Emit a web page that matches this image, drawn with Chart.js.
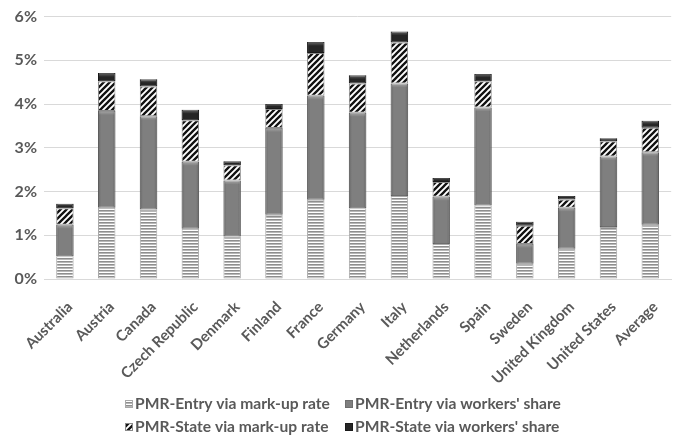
<!DOCTYPE html>
<html>
<head>
<meta charset="utf-8">
<script src="https://cdn.jsdelivr.net/npm/chart.js@4.4.1/dist/chart.umd.min.js"></script>
<style>
  html, body { margin: 0; padding: 0; background: #ffffff; }
  canvas { display: block; }
</style>
</head>
<body>
<canvas id="chart" width="674" height="437"></canvas>
<script>
// Contribution of product-market regulation reforms, by country (percent)
const categories = ['Australia', 'Austria', 'Canada', 'Czech Republic', 'Denmark', 'Finland', 'France',
  'Germany', 'Italy', 'Netherlands', 'Spain', 'Sweden', 'United Kingdom', 'United States', 'Average'];

const entryMarkup  = [0.52, 1.63, 1.59, 1.15, 0.97, 1.47, 1.81, 1.62, 1.90, 0.80, 1.68, 0.35, 0.69, 1.19, 1.24];
const entryWorkers = [0.72, 2.21, 2.13, 1.53, 1.28, 1.98, 2.38, 2.18, 2.57, 1.08, 2.24, 0.45, 0.94, 1.61, 1.66];
const stateMarkup  = [0.38, 0.68, 0.68, 0.95, 0.35, 0.44, 0.98, 0.67, 0.94, 0.34, 0.60, 0.42, 0.19, 0.35, 0.56];
const stateWorkers = [0.10, 0.19, 0.17, 0.24, 0.09, 0.11, 0.25, 0.19, 0.25, 0.09, 0.17, 0.09, 0.08, 0.07, 0.16];

const seriesNames = ['PMR-Entry via mark-up rate', "PMR-Entry via workers' share",
  'PMR-State via mark-up rate', "PMR-State via workers' share"];

const yTickLabels = ['0%', '1%', '2%', '3%', '4%', '5%', '6%'];

const TEXT = '#595959';
const FONT = 'Lato, "Open Sans", sans-serif';

// ---- fill patterns ----
function stripePattern() {
  const c = document.createElement('canvas');
  c.width = 4; c.height = 3;
  const g = c.getContext('2d');
  g.fillStyle = '#ffffff'; g.fillRect(0, 0, 4, 3);
  g.fillStyle = '#8e8e8e'; g.fillRect(0, 0, 4, 1);
  g.fillStyle = '#b8b8b8'; g.fillRect(0, 1, 4, 1);
  return g.createPattern(c, 'repeat');
}
function hatchPattern() {
  const s = 6;
  const c = document.createElement('canvas');
  c.width = s; c.height = s;
  const g = c.getContext('2d');
  g.fillStyle = '#ffffff'; g.fillRect(0, 0, s, s);
  g.strokeStyle = '#111111'; g.lineWidth = 2.3;
  g.beginPath();
  for (let k = -1; k <= 1; k++) {
    g.moveTo(k * s - 1, s + 1);
    g.lineTo(k * s + s + 1, -1);
  }
  g.stroke();
  return g.createPattern(c, 'repeat');
}

const ctx = document.getElementById('chart').getContext('2d');
const fills = [stripePattern(), '#7f7f7f', hatchPattern(), '#262626'];
const borders = ['#a9a9a9', '#6e6e6e', '#8a8a8a', '#1a1a1a'];
const seriesValues = [entryMarkup, entryWorkers, stateMarkup, stateWorkers];

// Soft bevel shading on the solid segments
const bevel = {
  id: 'bevel',
  afterDatasetsDraw(chart) {
    const c = chart.ctx;
    [1, 3].forEach(di => {
      const meta = chart.getDatasetMeta(di);
      meta.data.forEach(el => {
        const { x, y, base, width } = el.getProps(['x', 'y', 'base', 'width'], true);
        const l = x - width / 2, h = base - y;
        if (h <= 0) return;
        const gr = c.createLinearGradient(l, 0, l + width, 0);
        gr.addColorStop(0, 'rgba(0,0,0,0.18)');
        gr.addColorStop(0.18, 'rgba(0,0,0,0)');
        gr.addColorStop(0.82, 'rgba(0,0,0,0)');
        gr.addColorStop(1, 'rgba(0,0,0,0.18)');
        c.save();
        c.fillStyle = gr;
        c.fillRect(l, y, width, h);
        const th = Math.min(4, h / 2);
        const tg = c.createLinearGradient(0, y, 0, y + th);
        tg.addColorStop(0, 'rgba(255,255,255,0.30)');
        tg.addColorStop(1, 'rgba(255,255,255,0)');
        c.fillStyle = tg;
        c.fillRect(l + 1, y, width - 2, th);
        c.restore();
      });
    });
  }
};

// Two-row legend under the axis labels
const legendGrid = {
  id: 'legendGrid',
  afterDraw(chart) {
    const c = chart.ctx;
    const cols = [125, 345];
    const rows = [404, 427];
    c.save();
    c.font = 'bold 15.6px ' + FONT;
    c.textBaseline = 'middle';
    c.textAlign = 'left';
    chart.data.datasets.forEach((ds, i) => {
      const bx = cols[i % 2], by = rows[Math.floor(i / 2)];
      c.fillStyle = ds.backgroundColor;
      c.fillRect(bx, by - 4, 8, 8);
      c.strokeStyle = ds.borderColor;
      c.lineWidth = 1;
      c.strokeRect(bx + 0.5, by - 3.5, 7, 7);
      c.fillStyle = TEXT;
      c.fillText(ds.label, bx + 10, by);
    });
    c.restore();
  }
};

new Chart(ctx, {
  type: 'bar',
  data: {
    labels: categories,
    datasets: seriesValues.map((vals, i) => ({
      label: seriesNames[i],
      data: vals,
      backgroundColor: fills[i],
      borderColor: borders[i],
      borderWidth: 1,
      borderSkipped: false,
      barPercentage: 0.417,
      categoryPercentage: 1
    }))
  },
  options: {
    responsive: false,
    animation: false,
    layout: { padding: { top: 14, right: -3, bottom: 0, left: 0 } },
    plugins: {
      legend: { display: false },
      tooltip: { enabled: false }
    },
    scales: {
      x: {
        stacked: true,
        grid: { display: false },
        border: { display: true, color: '#d9d9d9' },
        ticks: {
          color: TEXT,
          font: { family: FONT, size: 15, weight: 'bold' },
          minRotation: 45,
          maxRotation: 45,
          autoSkip: false,
          padding: 11,
          labelOffset: 5
        },
        afterFit(scale) { scale.height = 158; }
      },
      y: {
        stacked: true,
        min: 0,
        max: 6,
        grid: { color: '#d9d9d9', drawTicks: false },
        border: { display: false },
        ticks: {
          stepSize: 1,
          color: TEXT,
          padding: 7,
          font: { family: FONT, size: 16, weight: 'bold' },
          callback: (v) => yTickLabels[Math.round(v)]
        },
        afterFit(scale) { scale.width = 44; }
      }
    }
  },
  plugins: [bevel, legendGrid]
});
</script>
</body>
</html>
